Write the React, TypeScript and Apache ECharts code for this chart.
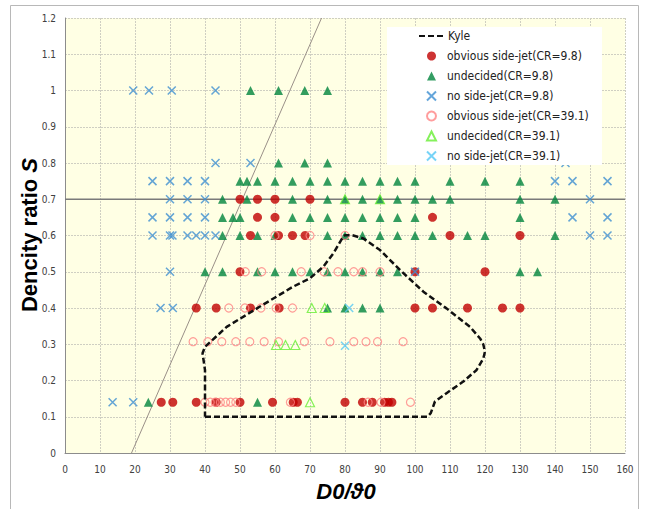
import React, { useEffect, useRef } from "react";
import * as echarts from "echarts";

type Pt = [number, number];

// Kyle boundary (dashed)
const kyle: Pt[] = [
  [40, 0.1], [103.5, 0.1], [104.5, 0.11], [105.7, 0.142], [109, 0.165], [113.8, 0.197],
  [117.6, 0.229], [119.5, 0.26], [120, 0.28], [119.5, 0.3], [118.6, 0.316], [115.7, 0.348],
  [109, 0.399], [102.4, 0.445], [95.7, 0.505], [90, 0.56], [85.2, 0.592], [82, 0.601],
  [80, 0.601], [79.5, 0.597], [76.7, 0.551], [73.8, 0.514], [70, 0.482], [65.2, 0.459],
  [55.7, 0.404], [46.2, 0.348], [40, 0.293], [39.3, 0.275], [40, 0.229], [40, 0.1],
];

const obviousCR98: Pt[] = [
  [50, 0.7], [55, 0.7], [60, 0.7], [70, 0.7],
  [55, 0.65], [60, 0.65], [105, 0.65],
  [53, 0.6], [61, 0.6], [65, 0.6], [68.6, 0.6], [110, 0.6], [130, 0.6],
  [50, 0.5], [100, 0.5], [120, 0.5],
  [37.5, 0.4], [43.2, 0.4], [53, 0.4], [61.2, 0.4], [100, 0.4], [105, 0.4], [115, 0.4], [125, 0.4], [130, 0.4],
  [27.5, 0.14], [30.8, 0.14], [37.5, 0.14], [43.2, 0.14], [50, 0.14], [59.3, 0.14], [65.2, 0.14],
  [66.4, 0.14], [80, 0.14], [85, 0.14], [87.8, 0.14], [91.3, 0.14], [92.4, 0.14], [93.4, 0.14],
];

const undecidedCR98: Pt[] = [
  [53, 1], [61, 1], [68.5, 1], [75, 1],
  [61, 0.8], [68.5, 0.8], [75, 0.8],
  [50, 0.75], [52, 0.75], [55, 0.75], [60, 0.75], [65, 0.75], [70, 0.75], [75, 0.75], [80, 0.75],
  [85, 0.75], [90, 0.75], [95, 0.75], [100, 0.75], [110, 0.75], [120, 0.75], [130, 0.75],
  [45, 0.7], [52, 0.7], [65, 0.7], [75, 0.7], [80, 0.7], [85, 0.7], [90, 0.7], [95, 0.7],
  [100, 0.7], [105, 0.7], [110, 0.7], [130, 0.7], [140, 0.7],
  [45, 0.65], [48, 0.65], [50, 0.65], [65, 0.65], [70, 0.65], [75, 0.65], [80, 0.65], [85, 0.65],
  [90, 0.65], [95, 0.65], [100, 0.65], [130, 0.65],
  [45, 0.6], [50, 0.6], [55, 0.6], [60, 0.6], [75, 0.6], [80, 0.6], [85, 0.6], [90, 0.6], [95, 0.6],
  [100, 0.6], [105, 0.6], [115, 0.6], [120, 0.6], [140, 0.6],
  [40, 0.5], [45, 0.5], [55, 0.5], [60, 0.5], [65, 0.5], [70, 0.5], [75, 0.5], [80, 0.5], [85, 0.5],
  [90, 0.5], [95, 0.5], [130, 0.5], [135, 0.5],
  [75, 0.4], [80, 0.4], [85, 0.4], [90, 0.4],
  [23.8, 0.14], [55, 0.14],
];

const noJetCR98: Pt[] = [
  [19.5, 1], [24, 1], [30.5, 1], [43, 1],
  [43, 0.8], [53, 0.8], [143, 0.8],
  [25, 0.75], [30, 0.75], [35, 0.75], [40, 0.75], [140, 0.75], [145, 0.75], [155, 0.75],
  [30, 0.7], [35, 0.7], [40, 0.7], [150, 0.7],
  [25, 0.65], [30, 0.65], [35, 0.65], [40, 0.65], [145, 0.65], [155, 0.65],
  [25, 0.6], [30, 0.6], [30.7, 0.6], [35, 0.6], [37.5, 0.6], [40, 0.6], [43, 0.6], [150, 0.6], [155, 0.6],
  [30, 0.5], [100, 0.5],
  [27.3, 0.4], [30.8, 0.4],
  [13.6, 0.14], [19.5, 0.14],
];

const obviousCR391: Pt[] = [
  [60, 0.6], [70, 0.6], [80, 0.6],
  [51.5, 0.5], [56.2, 0.5], [67.5, 0.5], [74, 0.5], [78, 0.5], [82.5, 0.5], [85, 0.5], [90, 0.5],
  [46.8, 0.4], [51.4, 0.4], [56, 0.4], [60.3, 0.4], [65, 0.4],
  [36.6, 0.307], [40.8, 0.307], [44.8, 0.307], [48.8, 0.307], [52.8, 0.307], [56.9, 0.307],
  [61, 0.307], [68.4, 0.307], [75.7, 0.307], [82.5, 0.307], [86, 0.307], [89.3, 0.307], [96.6, 0.307],
  [40, 0.14], [41.5, 0.14], [42.9, 0.14], [44.4, 0.14], [45.9, 0.14], [47.3, 0.14], [48.8, 0.14],
  [64.4, 0.14], [86.6, 0.14], [90.3, 0.14], [98.7, 0.14],
];

const undecidedCR391: Pt[] = [
  [80, 0.7], [90, 0.7],
  [70.5, 0.4], [74.2, 0.4],
  [60.3, 0.298], [63, 0.298], [65.8, 0.298],
  [70, 0.14],
];

const noJetCR391: Pt[] = [
  [81.2, 0.4], [80, 0.296],
];

const refLine07: Pt[] = [[0, 0.7], [160, 0.7]];
const diagonal: Pt[] = [[19, 0], [73.3, 1.2]];

const names = [
  "Kyle",
  "obvious side-jet(CR=9.8)",
  "undecided(CR=9.8)",
  "no side-jet(CR=9.8)",
  "obvious side-jet(CR=39.1)",
  "undecided(CR=39.1)",
  "no side-jet(CR=39.1)",
];

const FONT = '"Liberation Sans Narrow", "DejaVu Sans Condensed", Roboto, sans-serif';
const XSYM = "path://M0,0L10,10M10,0L0,10";

export default function App() {
  const ref = useRef<HTMLDivElement>(null);
  useEffect(() => {
    if (!ref.current) return;
    const chart = echarts.init(ref.current, undefined, { renderer: "svg" });
    const legendText = { fontSize: 12, lineHeight: 14, color: "#222", fontFamily: FONT };
    chart.setOption({
      animation: false,
      backgroundColor: "#ffffff",
      grid: {
        left: 65, right: 21, top: 18, bottom: 56,
        show: true, backgroundColor: "#FFFFE4", borderWidth: 0,
      },
      legend: [
        {
          orient: "vertical",
          left: 418, top: 29,
          padding: 0,
          itemWidth: 27, itemHeight: 9,
          z: 6,
          textStyle: { ...legendText, padding: [0, 0, 0, -3] },
          data: [names[0]],
        },
        {
          orient: "vertical",
          left: 426, top: 49,
          padding: 0,
          itemWidth: 9, itemHeight: 9, itemGap: 6,
          z: 6,
          textStyle: { ...legendText, padding: [0, 0, 0, 6] },
          data: names.slice(1),
        },
      ],
      xAxis: {
        type: "value", min: 0, max: 160, interval: 10,
        axisLine: { show: true, lineStyle: { color: "#8c8c8c" } },
        axisTick: { show: false },
        axisLabel: { fontSize: 10, color: "#404040", margin: 11, fontFamily: FONT },
        splitLine: { show: true, lineStyle: { color: "#cfcfc2", type: [2, 1] } },
      },
      yAxis: {
        type: "value", min: 0, max: 1.2, interval: 0.1,
        axisLine: { show: true, lineStyle: { color: "#8c8c8c" } },
        axisTick: { show: false },
        axisLabel: {
          fontSize: 10, color: "#404040", margin: 9, fontFamily: FONT,
          formatter: (v: number) => String(Math.round(v * 10) / 10),
        },
        splitLine: { show: true, lineStyle: { color: "#cfcfc2", type: [2, 1] } },
      },
      graphic: [
        {
          type: "rect", z: 0, silent: true,
          shape: { x: 10.5, y: 5.5, width: 628, height: 520 },
          style: { fill: "none", stroke: "#b8b8b8", lineWidth: 1 },
        },
        {
          type: "rect", z: 5, silent: true,
          shape: { x: 387, y: 27, width: 215, height: 138 },
          style: { fill: "#ffffff" },
        },
        {
          type: "text", x: 29, y: 235, rotation: Math.PI / 2, silent: true,
          style: {
            text: "{a|Dencity ratio }{b|S}",
            align: "center", verticalAlign: "middle",
            rich: {
              a: { fontSize: 22, fontWeight: "bold", fontFamily: "Liberation Sans, Arial, sans-serif", fill: "#000" },
              b: { fontSize: 22, fontWeight: "bold", fontStyle: "italic", fontFamily: "Liberation Sans, Arial, sans-serif", fill: "#000" },
            },
          },
        },
        {
          type: "text", x: 346, y: 491, silent: true,
          style: {
            text: "D0/ϑ0",
            align: "center", verticalAlign: "middle",
            fontSize: 22, fontWeight: "bold", fontStyle: "italic",
            fontFamily: "Liberation Sans, DejaVu Sans, sans-serif", fill: "#000",
          },
        },
      ],
      series: [
        {
          name: "ref07", type: "line", data: refLine07, symbol: "none", silent: true,
          lineStyle: { color: "#7a7a7a", width: 1.4 }, z: 1,
        },
        {
          name: "diag", type: "line", data: diagonal, symbol: "none", silent: true,
          lineStyle: { color: "#9a9088", width: 1 }, z: 1,
        },
        {
          name: names[2], type: "scatter", data: undecidedCR98, symbol: "triangle", symbolSize: 9,
          itemStyle: { color: "#00843C" },
        },
        {
          name: names[1], type: "scatter", data: obviousCR98, symbol: "circle", symbolSize: 9,
          itemStyle: { color: "#C00000" },
        },
        {
          name: names[3], type: "scatter", data: noJetCR98, symbol: XSYM, symbolSize: 8,
          itemStyle: { color: "rgba(0,0,0,0)", borderColor: "#3D8FD1", borderWidth: 1.5 },
        },
        {
          name: names[4], type: "scatter", data: obviousCR391, symbol: "circle", symbolSize: 8,
          itemStyle: { color: "rgba(0,0,0,0)", borderColor: "#FF8585", borderWidth: 1.2 },
        },
        {
          name: names[5], type: "scatter", data: undecidedCR391, symbol: "triangle", symbolSize: 9,
          itemStyle: { color: "rgba(0,0,0,0)", borderColor: "#66EE33", borderWidth: 1.2 },
        },
        {
          name: names[6], type: "scatter", data: noJetCR391, symbol: XSYM, symbolSize: 8,
          itemStyle: { color: "rgba(0,0,0,0)", borderColor: "#55C8F5", borderWidth: 1.5 },
        },
        {
          name: names[0], type: "line", data: kyle, symbol: "none", silent: true,
          lineStyle: { color: "#111", width: 2.5, type: [6, 3] },
          itemStyle: { color: "rgba(0,0,0,0)", borderWidth: 0, opacity: 0 },
        },
      ],
    });
    return () => chart.dispose();
  }, []);
  return (
    <div
      ref={ref}
      style={{ position: "fixed", left: 0, top: 0, width: 646, height: 509 }}
    />
  );
}
